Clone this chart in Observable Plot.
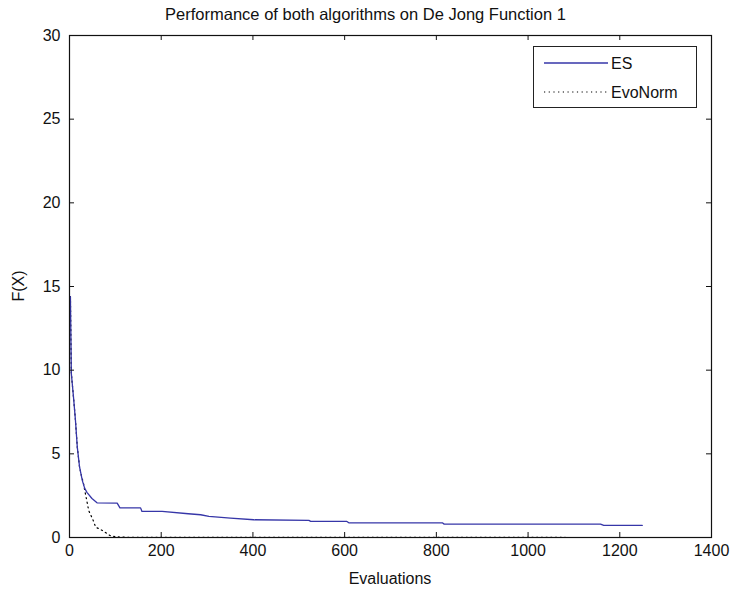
<!DOCTYPE html>
<html>
<head>
<meta charset="utf-8">
<script src="https://cdn.jsdelivr.net/npm/d3@7"></script>
<script src="https://cdn.jsdelivr.net/npm/@observablehq/plot@0.6"></script>
<style>
  body { margin: 0; background: #fff; }
  #wrap { position: relative; width: 731px; height: 593px; font-family: "Liberation Sans", Arial, sans-serif; }
  #title { height: 26px; width: 731px; text-align: center; font-size: 16.5px; line-height: 28px; color: #111; }
  #legend { position: absolute; left: 533px; top: 46px; width: 164px; height: 62px; border: 1px solid #222; background: #fff; box-sizing: border-box; }
</style>
</head>
<body>
<div id="wrap">
  <div id="title">Performance of both algorithms on De Jong Function 1</div>
  <div id="chart"></div>
  <div id="legend"></div>
</div>
<script>
// ES series (evaluations, F(X))
const esX = [2, 4, 6, 9, 13, 17, 22, 28, 33, 38, 49, 60, 104, 110, 155, 158, 202, 259, 286, 304, 351, 402, 522, 526, 605, 609, 813, 817, 1158, 1165, 1249];
const esY = [14.4, 9.8, 9.2, 8.3, 7.0, 5.4, 4.2, 3.4, 2.95, 2.7, 2.33, 2.07, 2.05, 1.77, 1.77, 1.56, 1.56, 1.42, 1.36, 1.26, 1.16, 1.06, 1.02, 0.96, 0.96, 0.88, 0.88, 0.8, 0.8, 0.72, 0.72];
// EvoNorm series
const evoX = [2, 4, 6, 9, 13, 17, 22, 26, 30, 33, 37, 42, 51, 57, 73, 88, 100, 130, 1249];
const evoY = [14.4, 9.8, 9.2, 8.3, 7.0, 5.4, 4.2, 3.7, 3.3, 2.85, 2.3, 1.6, 1.07, 0.62, 0.4, 0.12, 0.04, 0.01, 0];
const xTicks = [0, 200, 400, 600, 800, 1000, 1200, 1400];
const yTicks = [0, 5, 10, 15, 20, 25, 30];
const seriesNames = ["ES", "EvoNorm"];

const es = esX.map((x, i) => ({x, y: esY[i]}));
const evo = evoX.map((x, i) => ({x, y: evoY[i]}));

const esColor = "#3636a8";
const font = "Liberation Sans, Arial, sans-serif";

const plotH = 537 - 35;
const plotW = 711 - 69;

const chart = Plot.plot({
  width: 731,
  height: 567,
  marginLeft: 69,
  marginRight: 20,
  marginTop: 9,
  marginBottom: 56,
  style: {fontFamily: font, fontSize: "16px", color: "#111", background: "#fff"},
  x: {domain: [0, 1400]},
  y: {domain: [0, 30]},
  marks: [
    Plot.line(evo, {x: "x", y: "y", stroke: "#000", strokeWidth: 1.2, strokeDasharray: "1.2,3.5"}),
    Plot.line(es, {x: "x", y: "y", stroke: esColor, strokeWidth: 1.3}),
    Plot.frame({stroke: "#111", strokeWidth: 1.2}),
    // inward ticks
    Plot.tickX(xTicks, {x: d => d, stroke: "#111", insetTop: plotH - 5}),
    Plot.tickX(xTicks, {x: d => d, stroke: "#111", insetBottom: plotH - 5}),
    Plot.tickY(yTicks, {y: d => d, stroke: "#111", insetRight: plotW - 5}),
    Plot.tickY(yTicks, {y: d => d, stroke: "#111", insetLeft: plotW - 5}),
    Plot.axisX({ticks: xTicks, tickFormat: d3.format("d"), tickSize: 0, tickPadding: 7, label: null, fontSize: 16}),
    Plot.axisY({ticks: yTicks, tickFormat: d3.format("d"), tickSize: 0, tickPadding: 9, label: null, fontSize: 16})
  ]
});
document.getElementById("chart").appendChild(chart);

// axis labels as SVG text in chart
const svg = d3.select(chart);
svg.append("text").attr("x", 390).attr("y", 558).attr("text-anchor", "middle")
  .attr("font-size", 16).attr("font-family", font).attr("fill", "#111").text("Evaluations");
svg.append("text").attr("transform", "translate(24," + (286 - 26) + ") rotate(-90)")
  .attr("text-anchor", "middle").attr("font-size", 16).attr("font-family", font).attr("fill", "#111").text("F(X)");

// legend
const lg = d3.select("#legend").append("svg").attr("width", 162).attr("height", 60);
const styles = [{stroke: esColor, dash: null, w: 1.3}, {stroke: "#000", dash: "1.2,3.5", w: 1.2}];
seriesNames.forEach((name, i) => {
  const yy = 16 + i * 29;
  lg.append("line").attr("x1", 10).attr("x2", 74).attr("y1", yy).attr("y2", yy)
    .attr("stroke", styles[i].stroke).attr("stroke-width", styles[i].w)
    .attr("stroke-dasharray", styles[i].dash);
  lg.append("text").attr("x", 77).attr("y", yy + 6).attr("font-size", 16)
    .attr("font-family", font).attr("fill", "#111").text(name);
});
</script>
</body>
</html>
